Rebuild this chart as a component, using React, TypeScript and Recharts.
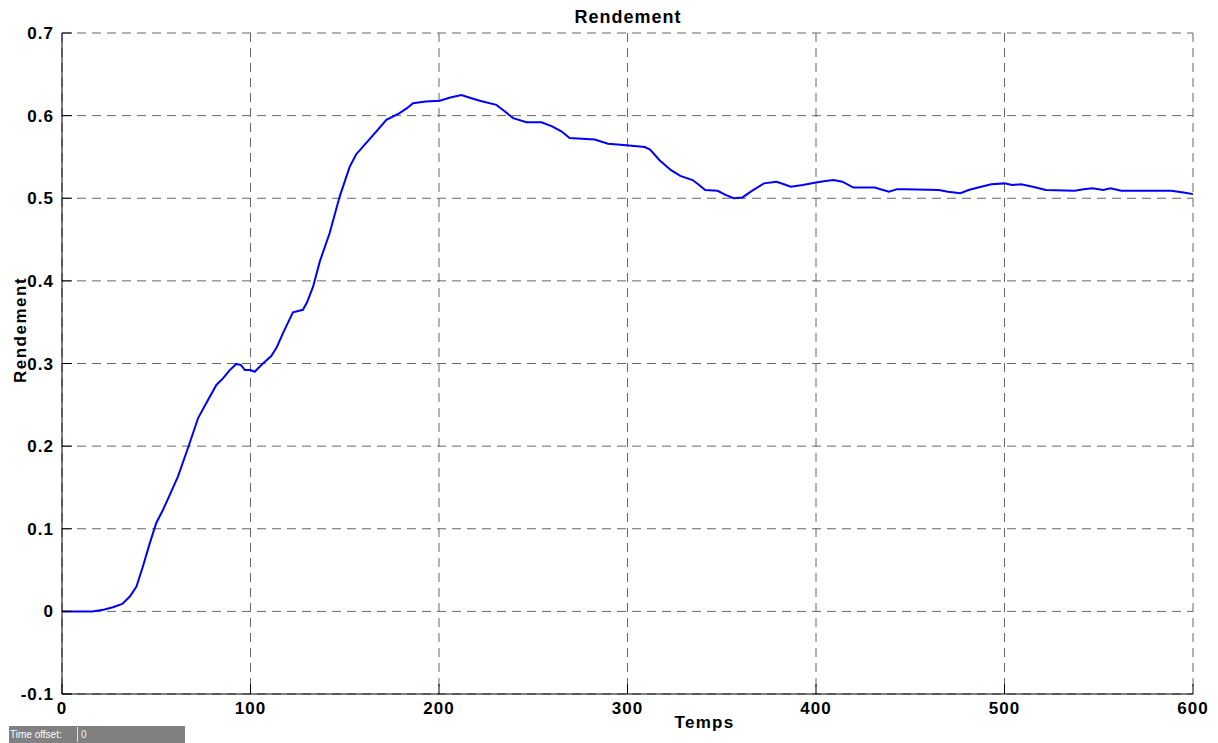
import React from 'react';
import { LineChart, Line, XAxis, YAxis, CartesianGrid, Label } from 'recharts';

const temps: number[] = [
  0, 16, 22, 27, 32, 36, 39.5, 43, 46.5, 50, 53.6, 57, 61.5, 67.7, 72.2, 77, 81.9, 85.4, 89, 92.5,
  95, 97, 100, 102.2, 106.6, 111, 114, 117.3, 122.5, 127.8, 130, 133.2, 136.7, 142, 147.3, 152.6,
  156, 160.6, 166.8, 172.1, 179.1, 183, 186.2, 193, 200.4, 206, 211.9, 216, 221.6, 230.4, 235,
  239.3, 246.4, 254.3, 260, 264.9, 269.3, 282.6, 289.7, 299.4, 309.1, 312, 317, 323.1, 328, 334.5,
  338, 341.2, 347.8, 352, 356.3, 361, 366, 372.4, 379, 383, 386.6, 393, 400, 405, 409.3, 414,
  419.8, 431.1, 438.7, 443, 447.3, 465.2, 470, 476.6, 481, 486, 493, 500, 504, 508.8, 515, 522,
  537.2, 542, 546.7, 552.4, 556.2, 561.9, 588.4, 595, 600,
];

const rendement: number[] = [
  0, 0, 0.002, 0.005, 0.009, 0.018, 0.03, 0.055, 0.082, 0.107, 0.123, 0.14, 0.163, 0.2035, 0.234,
  0.254, 0.274, 0.282, 0.292, 0.2995, 0.298, 0.292, 0.292, 0.29, 0.3, 0.309, 0.32, 0.337, 0.362,
  0.365, 0.374, 0.393, 0.423, 0.458, 0.502, 0.538, 0.553, 0.565, 0.581, 0.595, 0.603, 0.609, 0.615,
  0.617, 0.618, 0.622, 0.625, 0.622, 0.618, 0.613, 0.605, 0.597, 0.592, 0.592, 0.587, 0.581, 0.573,
  0.571, 0.566, 0.564, 0.562, 0.559, 0.546, 0.534, 0.527, 0.522, 0.516, 0.51, 0.509, 0.504, 0.5,
  0.501, 0.509, 0.518, 0.52, 0.517, 0.514, 0.516, 0.519, 0.521, 0.522, 0.52, 0.513, 0.513, 0.508,
  0.511, 0.511, 0.51, 0.508, 0.506, 0.51, 0.513, 0.517, 0.518, 0.516, 0.517, 0.514, 0.51, 0.509,
  0.511, 0.512, 0.51, 0.512, 0.509, 0.509, 0.507, 0.505,
];

const xTicks: number[] = [0, 100, 200, 300, 400, 500, 600];
const xTickLabels: string[] = ['0', '100', '200', '300', '400', '500', '600'];
const yTicks: number[] = [-0.1, 0, 0.1, 0.2, 0.3, 0.4, 0.5, 0.6, 0.7];
const yTickLabels: string[] = ['-0.1', '0', '0.1', '0.2', '0.3', '0.4', '0.5', '0.6', '0.7'];

const chartTitle = 'Rendement';
const xLabel = 'Temps';
const yLabel = 'Rendement';

const data = temps.map((t, i) => ({ t, v: rendement[i] }));

const FONT = '"Liberation Sans", Arial, Helvetica, sans-serif';
const TICK_LEN = 10;

const textStyle = {
  fontFamily: FONT,
  fontWeight: 700,
  fontSize: 17,
  letterSpacing: 1,
  fill: '#000',
};

const BottomTick = (props: any) => {
  const { x, y, payload } = props;
  const axisY = y - 20;
  const idx = xTicks.indexOf(payload.value);
  return (
    <g>
      <line x1={x} x2={x} y1={axisY} y2={axisY - TICK_LEN} stroke="#000" strokeWidth={1} />
      <text x={x} y={y} textAnchor="middle" style={textStyle}>
        {idx >= 0 ? xTickLabels[idx] : String(payload.value)}
      </text>
    </g>
  );
};

const LeftTick = (props: any) => {
  const { x, y, payload } = props;
  const axisX = x + 8;
  const idx = yTicks.findIndex((v) => Math.abs(v - payload.value) < 1e-9);
  return (
    <g>
      <line x1={axisX} x2={axisX + TICK_LEN} y1={y} y2={y} stroke="#000" strokeWidth={1} />
      <text x={x} y={y + 6} textAnchor="end" style={textStyle}>
        {idx >= 0 ? yTickLabels[idx] : String(payload.value)}
      </text>
    </g>
  );
};

const TopTick = (props: any) => {
  const { x, y } = props;
  return <line x1={x} x2={x} y1={y} y2={y + TICK_LEN} stroke="#000" strokeWidth={1} />;
};

const RightTick = (props: any) => {
  const { x, y } = props;
  return <line x1={x - TICK_LEN} x2={x} y1={y} y2={y} stroke="#000" strokeWidth={1} />;
};

export default function App() {
  return (
    <div style={{ position: 'absolute', left: 0, top: 0, width: 1218, height: 743, background: '#fff' }}>
      <LineChart
        width={1218}
        height={743}
        data={data}
        margin={{ top: 33, right: 25, left: 0, bottom: 0 }}
      >
        <CartesianGrid stroke="#666" strokeDasharray="9 6" strokeWidth={1} />
        <XAxis
          dataKey="t"
          type="number"
          domain={[0, 600]}
          ticks={xTicks}
          interval={0}
          height={49}
          tickSize={0}
          tickMargin={20}
          tickLine={false}
          axisLine={{ stroke: '#000', strokeWidth: 1 }}
          tick={<BottomTick />}
        >
          <Label
            content={(p: any) => {
              const vb = p.viewBox;
              return (
                <text
                  x={vb.x + vb.width / 2 + 77}
                  y={vb.y + 34}
                  textAnchor="middle"
                  style={{ ...textStyle, letterSpacing: 1.3 }}
                >
                  {xLabel}
                </text>
              );
            }}
          />
        </XAxis>
        <XAxis
          xAxisId="top"
          orientation="top"
          type="number"
          dataKey="t"
          domain={[0, 600]}
          ticks={xTicks}
          interval={0}
          height={0}
          tickSize={0}
          tickMargin={0}
          tickLine={false}
          axisLine={{ stroke: '#000', strokeWidth: 1 }}
          tick={<TopTick />}
        />
        <YAxis
          type="number"
          domain={[-0.1, 0.7]}
          ticks={yTicks}
          interval={0}
          width={62}
          tickSize={0}
          tickMargin={8}
          tickLine={false}
          axisLine={{ stroke: '#000', strokeWidth: 1 }}
          tick={<LeftTick />}
        >
          <Label
            content={(p: any) => {
              const vb = p.viewBox;
              const cx = 25.5;
              const cy = vb.y + vb.height / 2 - 33.5;
              return (
                <text
                  x={cx}
                  y={cy}
                  textAnchor="middle"
                  transform={`rotate(-90 ${cx} ${cy})`}
                  style={{ ...textStyle, letterSpacing: 1.5 }}
                >
                  {yLabel}
                </text>
              );
            }}
          />
        </YAxis>
        <YAxis
          yAxisId="right"
          orientation="right"
          type="number"
          domain={[-0.1, 0.7]}
          ticks={yTicks}
          interval={0}
          width={0}
          tickSize={0}
          tickMargin={0}
          tickLine={false}
          axisLine={{ stroke: '#000', strokeWidth: 1 }}
          tick={<RightTick />}
        />
        <Line
          type="linear"
          dataKey="v"
          stroke="#0000ff"
          strokeWidth={2}
          dot={false}
          activeDot={false}
          isAnimationActive={false}
        />
      </LineChart>
      <svg
        width={1218}
        height={40}
        style={{ position: 'absolute', left: 0, top: 0, pointerEvents: 'none' }}
      >
        <text x={628} y={23} textAnchor="middle" style={{ ...textStyle, fontSize: 18, letterSpacing: 1 }}>
          {chartTitle}
        </text>
      </svg>
      <div
        style={{
          position: 'absolute',
          left: 9,
          top: 726,
          width: 176,
          height: 17,
          background: '#808080',
          fontFamily: '"Liberation Sans", Arial, sans-serif',
          fontSize: 10,
          color: '#fff',
          lineHeight: '17px',
        }}
      >
        <span style={{ position: 'absolute', left: 1, top: 0 }}>Time offset:</span>
        <span
          style={{ position: 'absolute', left: 68, top: 1, width: 1, height: 15, background: '#e0e0e0' }}
        />
        <span style={{ position: 'absolute', left: 72, top: 0, color: '#f0f0f0' }}>0</span>
      </div>
    </div>
  );
}
